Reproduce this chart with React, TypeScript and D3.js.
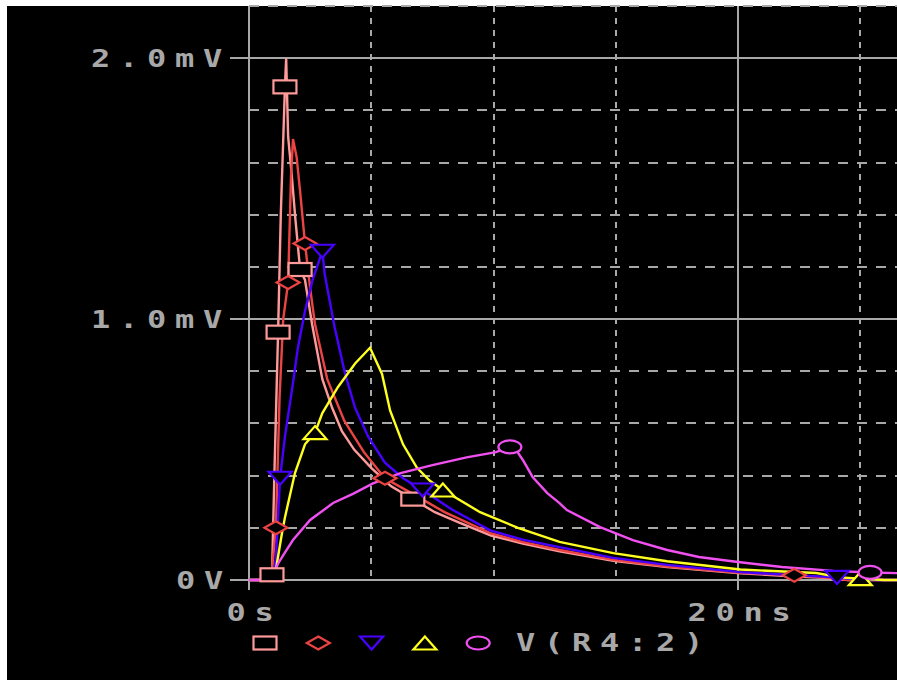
import React from 'react';
import * as d3 from 'd3';

const W = 897;
const H = 680;

// Transient traces of V(R4:2): time in ns, voltage in mV
const pinkT = [0, 0.85, 0.94, 1.05, 1.19, 1.3, 1.47, 1.52, 1.6, 1.75, 1.9, 2.09, 2.29, 2.58, 3.0, 3.4, 3.8, 4.3, 5.0, 5.8, 6.7, 7.6, 8.6, 9.9, 11.2, 12.7, 14.9, 17.1, 20.1, 22.0, 23.5, 24.5, 26, 30];
const pinkV = [0, 0, 0.02, 0.45, 0.95, 1.4, 1.89, 2.0, 1.7, 1.55, 1.38, 1.19, 1.15, 0.98, 0.77, 0.66, 0.57, 0.5, 0.43, 0.36, 0.31, 0.26, 0.22, 0.17, 0.14, 0.11, 0.074, 0.05, 0.026, 0.015, 0.008, 0, 0, 0];
const pinkMarks = [0.94, 1.19, 1.47, 2.09, 6.7];

const redT = [0, 0.9, 1.1, 1.25, 1.4, 1.6, 1.72, 1.8, 1.95, 2.1, 2.29, 2.5, 2.7, 3.2, 3.9, 4.7, 5.56, 6.7, 8.0, 9.86, 11.2, 12.7, 14.9, 17.1, 20.1, 22.3, 23.5, 24.5, 30];
const redV = [0, 0, 0.2, 0.7, 1.0, 1.14, 1.55, 1.69, 1.62, 1.48, 1.29, 1.12, 0.98, 0.77, 0.61, 0.49, 0.39, 0.33, 0.26, 0.18, 0.145, 0.115, 0.077, 0.052, 0.028, 0.018, 0.01, 0, 0];
const redMarks = [1.1, 1.6, 2.29, 5.56, 22.3];

const blueT = [0, 0.95, 1.1, 1.27, 1.47, 1.76, 2.0, 2.29, 2.6, 3.0, 3.1, 3.5, 3.93, 4.34, 4.87, 5.56, 6.3, 7.1, 8.3, 9.86, 11.2, 12.7, 14.9, 17.1, 20.1, 22.0, 24.05, 25.0, 30];
const blueV = [0, 0, 0.08, 0.39, 0.55, 0.73, 0.89, 1.03, 1.15, 1.26, 1.17, 0.97, 0.79, 0.66, 0.55, 0.45, 0.39, 0.345, 0.27, 0.19, 0.155, 0.126, 0.085, 0.058, 0.03, 0.02, 0.01, 0, 0];
const blueMarks = [1.27, 3.0, 7.1, 24.05];

const yellowT = [0, 1.0, 1.1, 1.35, 1.47, 1.88, 2.29, 2.7, 3.0, 3.64, 4.34, 4.95, 5.44, 5.77, 6.3, 6.87, 7.4, 7.93, 9.45, 11.0, 12.7, 14.9, 17.1, 20.1, 23.2, 24.2, 25.0, 26, 30];
const yellowV = [0, 0, 0.04, 0.18, 0.24, 0.41, 0.52, 0.565, 0.64, 0.74, 0.83, 0.89, 0.79, 0.65, 0.52, 0.43, 0.38, 0.345, 0.26, 0.2, 0.146, 0.103, 0.072, 0.04, 0.027, 0.01, 0.005, 0, 0];
const yellowMarks = [2.7, 7.93, 25.0];

const magT = [0, 0.9, 1.2, 1.5, 1.8, 2.5, 3.44, 4.25, 5.07, 6.2, 7.5, 8.9, 10.1, 10.67, 10.95, 11.2, 11.6, 12.2, 12.7, 13.0, 14.36, 15.7, 17.1, 18.4, 20.0, 21.8, 23.9, 25.4, 27, 30];
const magV = [0, 0, 0.065, 0.11, 0.153, 0.23, 0.295, 0.33, 0.37, 0.41, 0.44, 0.47, 0.49, 0.51, 0.495, 0.46, 0.395, 0.333, 0.295, 0.268, 0.203, 0.153, 0.115, 0.088, 0.069, 0.05, 0.035, 0.029, 0.025, 0.02];
const magMarks = [10.67, 25.4];

const yGridTicks = [0.2, 0.4, 0.6, 0.8, 1.0, 1.2, 1.4, 1.6, 1.8, 2.0, 2.2];
const ySolidTicks = [1.0, 2.0];
const yLabels = [
  { v: 2.0, text: '2.0mV' },
  { v: 1.0, text: '1.0mV' },
  { v: 0, text: '0V' },
];
const xGridTicks = [5, 10, 15, 20, 25, 30];
const xSolidTicks = [20];
const xLabels = [
  { t: 0, text: '0s' },
  { t: 20, text: '20ns' },
];
const traceName = 'V(R4:2)';

type Shape = 'square' | 'diamond' | 'down' | 'up' | 'circle';

const series: { t: number[]; v: number[]; marks: number[]; color: string; shape: Shape }[] = [
  { t: pinkT, v: pinkV, marks: pinkMarks, color: '#ff9a9a', shape: 'square' },
  { t: redT, v: redV, marks: redMarks, color: '#ec4444', shape: 'diamond' },
  { t: blueT, v: blueV, marks: blueMarks, color: '#4800ff', shape: 'down' },
  { t: yellowT, v: yellowV, marks: yellowMarks, color: '#ffff20', shape: 'up' },
  { t: magT, v: magV, marks: magMarks, color: '#f050f0', shape: 'circle' },
];

const GREY = '#a8a8a8';
const MW = 11.5;
const MH = 6.5;
const ADV = 28; // character pitch of the label font
const SX = 1.28; // horizontal stretch of label glyphs

function Marker({ shape, cx, cy, color }: { shape: Shape; cx: number; cy: number; color: string }) {
  const common = { fill: '#000', stroke: color, strokeWidth: 2.2 };
  if (shape === 'square') return <rect x={cx - MW} y={cy - MH} width={MW * 2} height={MH * 2} {...common} />;
  if (shape === 'circle') return <ellipse cx={cx} cy={cy} rx={MW} ry={MH} {...common} />;
  let d = '';
  if (shape === 'diamond') d = `M${cx},${cy - MH}L${cx + MW},${cy}L${cx},${cy + MH}L${cx - MW},${cy}Z`;
  if (shape === 'down') d = `M${cx - MW},${cy - MH}L${cx + MW},${cy - MH}L${cx},${cy + MH}Z`;
  if (shape === 'up') d = `M${cx},${cy - MH}L${cx + MW},${cy + MH}L${cx - MW},${cy + MH}Z`;
  return <path d={d} {...common} />;
}

function Label({ x, y, text }: { x: number; y: number; text: string }) {
  return (
    <text
      transform={`translate(${x},${y}) scale(${SX},1)`}
      style={{
        fontFamily: '"DejaVu Sans Mono", monospace',
        fontWeight: 'bold',
        fontSize: 25,
        letterSpacing: ADV / SX - 15.05,
        fill: GREY,
      }}
    >
      {text}
    </text>
  );
}

export default function App() {
  const x = d3.scaleLinear().domain([0, 30]).range([249, 982.5]);
  const y = d3.scaleLinear().domain([0, 2.2]).range([580, 6]);
  const line = d3
    .line<[number, number]>()
    .x((d) => x(d[0]))
    .y((d) => y(d[1]));

  const x0 = x(0);
  const y0 = y(0);

  return (
    <svg width={W} height={H} style={{ position: 'absolute', left: 0, top: 0, display: 'block' }}>
      <rect x={0} y={0} width={W} height={H} fill="#fff" />
      <rect x={7} y={6} width={W - 7} height={H - 6} fill="#000" />

      {/* horizontal grid */}
      {yGridTicks.map((v) => {
        const solid = ySolidTicks.includes(v);
        return (
          <line
            key={'h' + v}
            x1={solid ? 230 : x0}
            x2={W}
            y1={Math.round(y(v))}
            y2={Math.round(y(v))}
            stroke={GREY}
            strokeWidth={2}
            strokeDasharray={solid ? undefined : '10,9'}
            shapeRendering="crispEdges"
          />
        );
      })}
      {/* vertical grid */}
      {xGridTicks.map((t) => {
        const solid = xSolidTicks.includes(t);
        return (
          <line
            key={'v' + t}
            x1={Math.round(x(t))}
            x2={Math.round(x(t))}
            y1={y(2.2)}
            y2={solid ? 590 : y0}
            stroke={GREY}
            strokeWidth={2}
            strokeDasharray={solid ? undefined : '6,6'}
            shapeRendering="crispEdges"
          />
        );
      })}
      {/* axes */}
      <line x1={230} x2={W} y1={y0} y2={y0} stroke={GREY} strokeWidth={2} shapeRendering="crispEdges" />
      <line x1={x0} x2={x0} y1={y(2.2)} y2={590} stroke={GREY} strokeWidth={2} shapeRendering="crispEdges" />

      {/* axis labels */}
      {yLabels.map((l) => (
        <Label key={l.text} x={l.text.length === 2 ? 176 : 91} y={y(l.v) + 9} text={l.text} />
      ))}
      {xLabels.map((l) => (
        <Label key={l.text} x={x(l.t) - (l.text.length * ADV - 13) / 2 - 1} y={621} text={l.text} />
      ))}

      {/* traces */}
      {series.map((s, i) => (
        <path
          key={'s' + i}
          d={line(s.t.map((t, j) => [t, s.v[j]] as [number, number])) || ''}
          fill="none"
          stroke={s.color}
          strokeWidth={2.4}
          strokeLinejoin="miter"
        />
      ))}
      {series.map((s, i) =>
        s.marks.map((t) => {
          const j = s.t.indexOf(t);
          return <Marker key={'m' + i + '-' + t} shape={s.shape} cx={x(t)} cy={y(s.v[j])} color={s.color} />;
        })
      )}

      {/* legend */}
      {series.map((s, i) => (
        <Marker key={'l' + i} shape={s.shape} cx={265 + i * 53.3} cy={643} color={s.color} />
      ))}
      <Label x={516} y={651} text={traceName} />
    </svg>
  );
}
